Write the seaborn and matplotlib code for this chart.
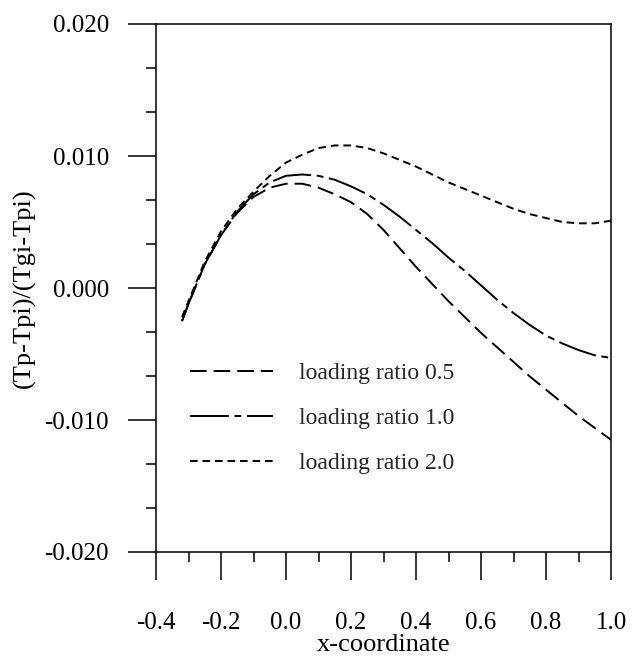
import matplotlib
matplotlib.use("Agg")
import matplotlib.pyplot as plt
import seaborn as sns
import pandas as pd
from matplotlib.ticker import FixedLocator, MultipleLocator

# ---- data ----
x_vals = [-0.32, -0.30, -0.25, -0.20, -0.15, -0.10, -0.05, 0.00, 0.05, 0.10,
          0.15, 0.20, 0.25, 0.30, 0.35, 0.40, 0.45, 0.50, 0.55, 0.60,
          0.65, 0.70, 0.75, 0.80, 0.85, 0.90, 0.95, 1.00]

ratio_05 = [-0.0025, -0.0012, 0.0018, 0.0040, 0.0057, 0.0069, 0.0076, 0.0079, 0.0079, 0.0076,
            0.0071, 0.0065, 0.0056, 0.0044, 0.0030, 0.0016, 0.0003, -0.0010, -0.0022, -0.0034,
            -0.0045, -0.0056, -0.0067, -0.0077, -0.0087, -0.0097, -0.0106, -0.0115]

ratio_10 = [-0.0025, -0.0012, 0.0018, 0.0040, 0.0058, 0.0071, 0.0080, 0.0085, 0.0086, 0.0085,
            0.0082, 0.0077, 0.0071, 0.0063, 0.0054, 0.0044, 0.0034, 0.0023, 0.0013, 0.0002,
            -0.0009, -0.0019, -0.0028, -0.0036, -0.0042, -0.0047, -0.0051, -0.0053]

ratio_20 = [-0.0022, -0.0010, 0.0020, 0.0043, 0.0060, 0.0073, 0.0085, 0.0095, 0.0101, 0.0106,
            0.0108, 0.0108, 0.0106, 0.0102, 0.0097, 0.0092, 0.0086, 0.0080, 0.0075, 0.0070,
            0.0065, 0.0060, 0.0056, 0.0053, 0.0050, 0.0049, 0.0049, 0.0051]

labels = ["loading ratio 0.5", "loading ratio 1.0", "loading ratio 2.0"]

x_ticks = [-0.4, -0.2, 0.0, 0.2, 0.4, 0.6, 0.8, 1.0]
x_ticklabels = ["-0.4", "-0.2", "0.0", "0.2", "0.4", "0.6", "0.8", "1.0"]
y_ticks = [-0.020, -0.010, 0.000, 0.010, 0.020]
y_ticklabels = ["-0.020", "-0.010", "0.000", "0.010", "0.020"]

# ---- style ----
sns.set_theme(style="ticks")
plt.rcParams["font.family"] = ["Liberation Serif", "DejaVu Serif"]
plt.rcParams["lines.scale_dashes"] = False

fig = plt.figure(figsize=(6.32, 6.61), dpi=100)
ax = fig.add_axes([156 / 632, 1 - 552 / 661, (611 - 156) / 632, (552 - 24) / 661])

styles = [(0, (12, 5)), (0, (28, 4, 5, 4)), (0, (5.5, 3.5))]
series = [ratio_05, ratio_10, ratio_20]
for vals, lab, ls in zip(series, labels, styles):
    df = pd.DataFrame({"x": x_vals, "y": vals})
    sns.lineplot(data=df, x="x", y="y", ax=ax, color="black", linewidth=1.4,
                 linestyle=ls, label=lab, sort=False)

ax.set_xlim(-0.4, 1.0)
ax.set_ylim(-0.020, 0.020)

ax.xaxis.set_major_locator(FixedLocator(x_ticks))
ax.set_xticklabels(x_ticklabels)
ax.xaxis.set_minor_locator(MultipleLocator(0.1))
ax.yaxis.set_major_locator(FixedLocator(y_ticks))
ax.set_yticklabels(y_ticklabels)
ax.yaxis.set_minor_locator(MultipleLocator(0.01 / 3))

for s in ax.spines.values():
    s.set_linewidth(1.1)
    s.set_color("black")

ax.tick_params(axis="both", which="major", direction="out", length=20, width=1.1,
               color="black", labelsize=18, labelcolor="black")
ax.tick_params(axis="both", which="minor", direction="out", length=7, width=1.1, color="black")
ax.tick_params(axis="y", which="major", pad=14)
ax.tick_params(axis="x", which="major", pad=23)
ax.tick_params(top=False, right=False, which="both")

ax.set_xlabel("x-coordinate", fontsize=19, color="black", labelpad=0)
ax.set_ylabel("(Tp-Tpi)/(Tgi-Tpi)", fontsize=19, color="black", labelpad=6)

leg = ax.legend(loc="upper left", bbox_to_anchor=(0.055, 0.377), frameon=False,
                fontsize=17, handlelength=3.5, handletextpad=1.1, labelspacing=1.0,
                borderaxespad=0)

fig.savefig("out.png", dpi=100)
